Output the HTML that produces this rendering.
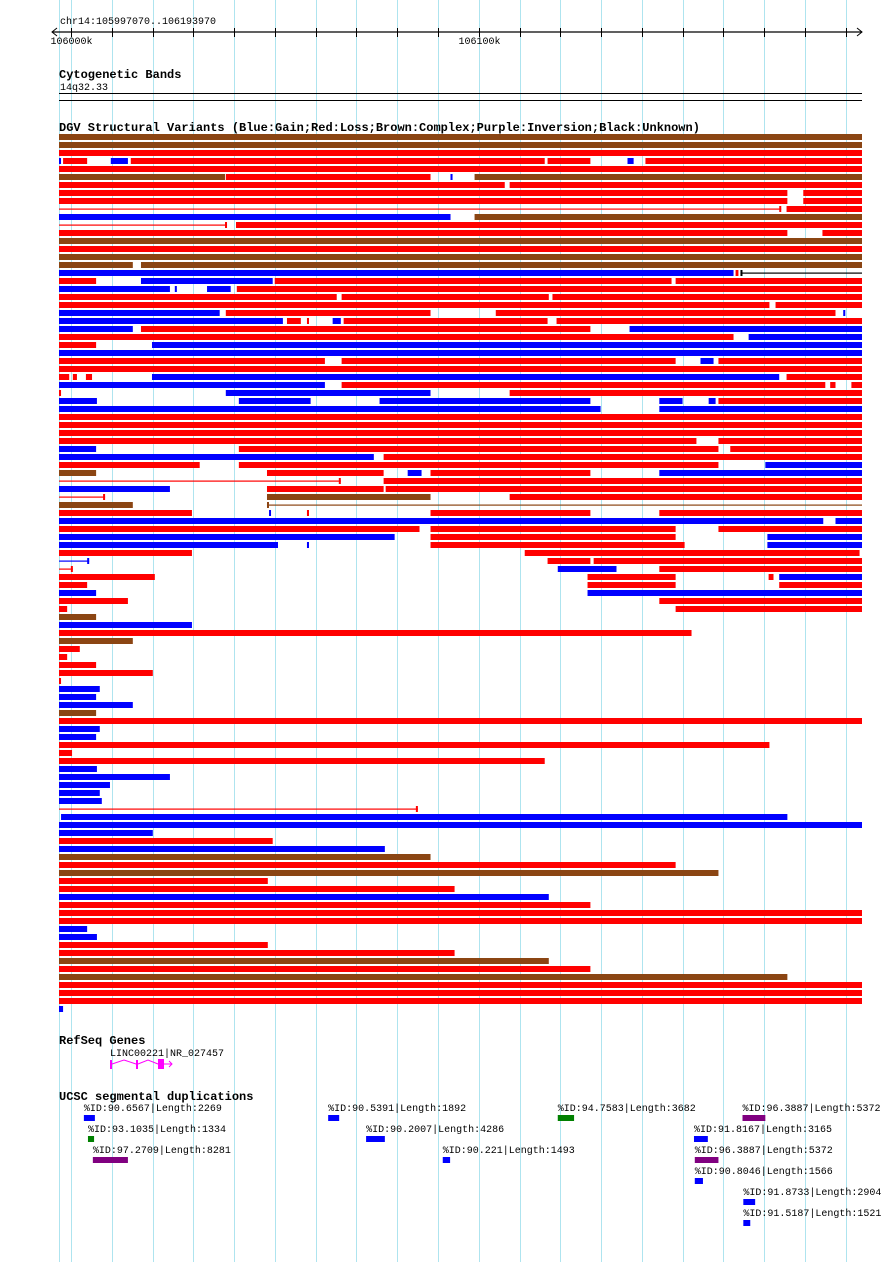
<!DOCTYPE html>
<html><head><meta charset="utf-8"><style>
html,body{margin:0;padding:0;background:#fff;}
svg{display:block;}
text{font-family:"Liberation Mono","DejaVu Sans Mono",monospace;}
.t{font-size:10px;fill:#000;}
.h{font-size:12px;font-weight:bold;fill:#000;}
</style></head><body>
<svg id="c" width="890" height="1262" viewBox="0 0 890 1262" xmlns="http://www.w3.org/2000/svg">
<g id="grid"></g>
<g id="ruler">
<text class="t" x="60" y="24">chr14:105997070..106193970</text>
<line x1="52" y1="32" x2="862" y2="32" stroke="#000" stroke-width="1.2"/>
<path d="M57,28 L52,32 L57,36 M857,28 L862,32 L857,36" stroke="#000" fill="none"/>
</g>
<text class="h" x="59" y="78">Cytogenetic Bands</text>
<text class="t" x="60" y="90">14q32.33</text>
<line x1="59" y1="93.5" x2="862" y2="93.5" stroke="#000"/>
<line x1="59" y1="100.5" x2="862" y2="100.5" stroke="#000"/>
<text class="h" x="59" y="131">DGV Structural Variants (Blue:Gain;Red:Loss;Brown:Complex;Purple:Inversion;Black:Unknown)</text>
<g id="dgv"></g>
<text class="h" x="59" y="1044">RefSeq Genes</text>
<text class="t" x="110" y="1056">LINC00221|NR_027457</text>
<g stroke="#ff00ff" fill="#ff00ff">
<line x1="110" y1="1064" x2="172" y2="1064" stroke-width="0.01"/>
<rect x="110" y="1060" width="2" height="9" stroke="none"/>
<rect x="136" y="1060" width="2" height="9" stroke="none"/>
<rect x="158" y="1059" width="6" height="10" stroke="none"/>
<path d="M112,1064 L124,1060 L136,1064 M138,1064 L148,1060 L158,1064 M164,1064 L172,1064 M169,1061 L172,1064 L169,1067" fill="none"/>
</g>
<text class="h" x="59" y="1100">UCSC segmental duplications</text>
<g id="seg"></g>
</svg>
<script>
// genomic view: kb offsets from 105997070
const viewStartKb = 0, viewEndKb = 196.9;
const tickKb = [2.93, 12.93, 22.93, 32.93, 42.93, 52.93, 62.93, 72.93, 82.93, 92.93, 102.93, 112.93, 122.93, 132.93, 142.93, 152.93, 162.93, 172.93, 182.93, 192.93];
const tickLabels = {0:"106000k", 10:"106100k"};
function X(kb){ return 59 + (kb - viewStartKb) * (803 / (viewEndKb - viewStartKb)); }
const colors = {g:"#0000ff", l:"#ff0000", c:"#8b4513", u:"#000000", i:"#800080"};
const F = 196.9;
// each row: list of [startKb, endKb, type, thinFlag('t' = thin line, tick at end; 'ts' = tick at start)]
const rows = [
[[0,F,'c']],[[0,F,'c']],[[0,F,'l']],
[[0,0.5,'g'],[1.0,6.9,'l'],[12.7,16.9,'g'],[17.6,119.1,'l'],[119.8,130.3,'l'],[139.4,140.9,'g'],[143.8,F,'l']],
[[0,F,'l']],
[[0,40.7,'c'],[40.9,91.1,'l'],[96.0,96.5,'g'],[101.9,F,'c']],
[[0,109.3,'l'],[110.5,F,'l']],
[[0,178.6,'l'],[182.5,F,'l']],
[[0,178.6,'l'],[182.5,F,'l']],
[[0,177.1,'l','t'],[178.4,F,'l']],
[[0,96.0,'g'],[101.9,F,'c']],
[[0,41.2,'l','t'],[43.4,F,'l']],
[[0,178.6,'l'],[187.2,F,'l']],
[[0,F,'c']],[[0,F,'l']],[[0,F,'c']],
[[0,18.1,'c'],[20.1,F,'c']],
[[0,165.4,'g'],[165.9,166.6,'l'],[167.1,F,'u','ts']],
[[0,9.1,'l'],[20.1,52.4,'g'],[52.9,150.2,'l'],[151.2,F,'l']],
[[0,27.2,'g'],[28.4,28.9,'g'],[36.3,42.1,'g'],[43.6,F,'l']],
[[0,68.1,'l'],[69.3,120.1,'l'],[121.0,F,'l']],
[[0,174.2,'l'],[175.7,F,'l']],
[[0,39.4,'g'],[40.9,91.1,'l'],[107.1,190.4,'l'],[192.3,192.8,'g']],
[[0,54.9,'g'],[55.9,59.3,'l'],[60.8,61.3,'l'],[67.1,69.1,'g'],[69.8,119.8,'l'],[122.0,F,'l']],
[[0,18.1,'g'],[20.1,130.3,'l'],[139.9,F,'g']],
[[0,165.4,'l'],[169.1,F,'g']],
[[0,9.1,'l'],[22.8,F,'g']],
[[0,F,'g']],
[[0,65.2,'l'],[69.3,151.2,'l'],[157.3,160.5,'g'],[161.7,F,'l']],
[[0,F,'l']],
[[0,2.5,'l'],[3.4,4.4,'l'],[6.6,8.1,'l'],[22.8,176.6,'g'],[178.4,F,'l']],
[[0,65.2,'g'],[69.3,187.9,'l'],[189.1,190.4,'l'],[194.3,F,'l']],
[[0,0.5,'l'],[40.9,91.1,'g'],[110.5,F,'l']],
[[0,9.3,'g'],[44.1,61.7,'g'],[78.6,130.3,'g'],[147.2,152.9,'g'],[159.3,161.0,'g'],[161.7,F,'l']],
[[0,132.8,'g'],[147.2,F,'g']],
[[0,F,'l']],[[0,F,'l']],[[0,F,'l']],
[[0,156.3,'l'],[161.7,F,'l']],
[[0,9.1,'g'],[44.1,161.7,'l'],[164.6,F,'l']],
[[0,77.2,'g'],[79.6,F,'l']],
[[0,34.5,'l'],[44.1,161.7,'l'],[173.2,F,'g']],
[[0,9.1,'c'],[51.0,79.6,'l'],[85.5,88.9,'g'],[91.1,130.3,'l'],[147.2,F,'g']],
[[0,69.1,'l','t'],[79.6,F,'l']],
[[0,27.2,'g'],[51.0,79.6,'l'],[80.1,F,'l']],
[[0,11.3,'l','t'],[51.0,91.1,'c'],[110.5,F,'l']],
[[0,18.1,'c'],[51.0,F,'c','ts']],
[[0,32.6,'l'],[51.5,51.9,'g'],[60.8,61.3,'l'],[91.1,130.3,'l'],[147.2,F,'l']],
[[0,187.4,'g'],[190.4,F,'g']],
[[0,88.4,'l'],[91.1,151.2,'l'],[161.7,F,'l']],
[[0,82.3,'g'],[91.1,151.2,'l'],[173.7,F,'g']],
[[0,53.7,'g'],[60.8,61.3,'g'],[91.1,153.4,'l'],[173.7,F,'g']],
[[0,32.6,'l'],[114.2,196.3,'l']],
[[0,7.4,'g','t'],[119.8,130.3,'l'],[131.1,F,'l']],
[[0,3.4,'l','t'],[122.3,136.7,'g'],[147.2,F,'l']],
[[0,23.5,'l'],[129.6,151.2,'l'],[174.0,175.2,'l'],[176.6,F,'g']],
[[0,6.9,'l'],[129.6,151.2,'l'],[176.6,F,'l']],
[[0,9.1,'g'],[129.6,F,'g']],
[[0,16.9,'l'],[147.2,F,'l']],
[[0,2.0,'l'],[151.2,F,'l']],
[[0,9.1,'c']],[[0,32.6,'g']],[[0,155.1,'l']],[[0,18.1,'c']],
[[0,5.1,'l']],[[0,2.0,'l']],[[0,9.1,'l']],[[0,23.0,'l']],[[0,0.5,'l']],
[[0,10.0,'g']],[[0,9.1,'g']],[[0,18.1,'g']],[[0,9.1,'c']],
[[0,F,'l']],[[0,10.0,'g']],[[0,9.1,'g']],[[0,174.2,'l']],[[0,3.2,'l']],
[[0,119.1,'l']],[[0,9.3,'g']],[[0,27.2,'g']],[[0,12.5,'g']],[[0,10.0,'g']],[[0,10.5,'g']],
[[0,88.0,'l','t']],
[[0.5,178.6,'g']],[[0,F,'g']],[[0,23.0,'g']],[[0,52.4,'l']],[[0,79.9,'g']],
[[0,91.1,'c']],[[0,151.2,'l']],[[0,161.7,'c']],[[0,51.2,'l']],[[0,97.0,'l']],
[[0,120.1,'g']],[[0,130.3,'l']],[[0,F,'l']],[[0,F,'l']],
[[0,6.9,'g']],[[0,9.3,'g']],[[0,51.2,'l']],[[0,97.0,'l']],[[0,120.1,'c']],
[[0,130.3,'l']],[[0,178.6,'c']],[[0,F,'l']],[[0,F,'l']],[[0,F,'l']],[[0,1.0,'g']]
];
// segmental duplications: [label, startKb, endKb, color, lane]
const segLabels = ["%ID:90.6567|Length:2269","%ID:93.1035|Length:1334","%ID:97.2709|Length:8281","%ID:90.5391|Length:1892","%ID:90.2007|Length:4286","%ID:90.221|Length:1493","%ID:94.7583|Length:3682","%ID:96.3887|Length:5372","%ID:91.8167|Length:3165","%ID:96.3887|Length:5372","%ID:90.8046|Length:1566","%ID:91.8733|Length:2904","%ID:91.5187|Length:1521"];
const segStart = [6.1, 7.1, 8.3, 66.0, 75.3, 94.1, 122.3, 167.6, 155.7, 155.9, 155.9, 167.8, 167.8];
const segEnd   = [8.8, 8.6, 16.9, 68.7, 79.9, 95.9, 126.3, 173.2, 159.1, 161.7, 157.9, 170.7, 169.5];
const segColor = ['g','green','i','g','g','g','green','i','g','i','g','g','g'];
const segLane  = [0,1,2,0,1,2,0,0,1,2,3,4,5];

const NS = "http://www.w3.org/2000/svg";
function mk(tag, attrs, parent){ const e = document.createElementNS(NS, tag); for (const k in attrs) e.setAttribute(k, attrs[k]); parent.appendChild(e); return e; }

const grid = document.getElementById('grid');
const gl0 = mk('line', {x1:59.5, y1:0, x2:59.5, y2:1262, stroke:'#aee4ef', 'stroke-width':1}, grid);


const ruler = document.getElementById('ruler');
tickKb.forEach((k, i) => {
  const x = Math.round(X(k)) + 0.5;
  const gl = mk('line', {x1:x, y1:0, x2:x, y2:1262, stroke:'#aee4ef', 'stroke-width':1}, grid);
  
  
  const tk = mk('line', {x1:x, y1:28, x2:x, y2:37, stroke:'#000', 'stroke-width':1}, ruler);
  
  
  if (tickLabels[i]) {
    const t = mk('text', {x:x, y:44, 'text-anchor':'middle', class:'t'}, ruler);
    t.textContent = tickLabels[i];
    
    
  }
});

const dgv = document.getElementById('dgv');
rows.forEach((row, r) => {
  const y = 134 + r * 8;
  row.forEach(seg => {
    const [s, e, type, thin] = seg;
    const x1 = X(s), x2 = X(e), col = colors[type];
    if (thin) {
      const g = mk('g', {}, dgv);
      
      
      mk('rect', {x:x1, y:y + 2.5, width:Math.max(1, x2 - x1), height:1.2, fill:col}, g);
      const tx = thin === 'ts' ? x1 : x2 - 2;
      mk('rect', {x:tx, y:y, width:2, height:6, fill:col}, g);
    } else {
      const b = mk('rect', {x:x1, y:y, width:Math.max(2, x2 - x1), height:6, fill:col}, dgv);
      
      
    }
  });
});

const segG = document.getElementById('seg');
segLabels.forEach((lab, i) => {
  const x1 = X(segStart[i]), x2 = X(segEnd[i]);
  const y = 1111 + segLane[i] * 21;
  const t = mk('text', {x:x1, y:y, class:'t'}, segG);
  t.textContent = lab;
  
  
  const c = segColor[i] === 'green' ? '#008000' : colors[segColor[i]];
  const b = mk('rect', {x:x1, y:y + 4, width:x2 - x1, height:6, fill:c}, segG);
  
  
});
</script>
</body></html>
